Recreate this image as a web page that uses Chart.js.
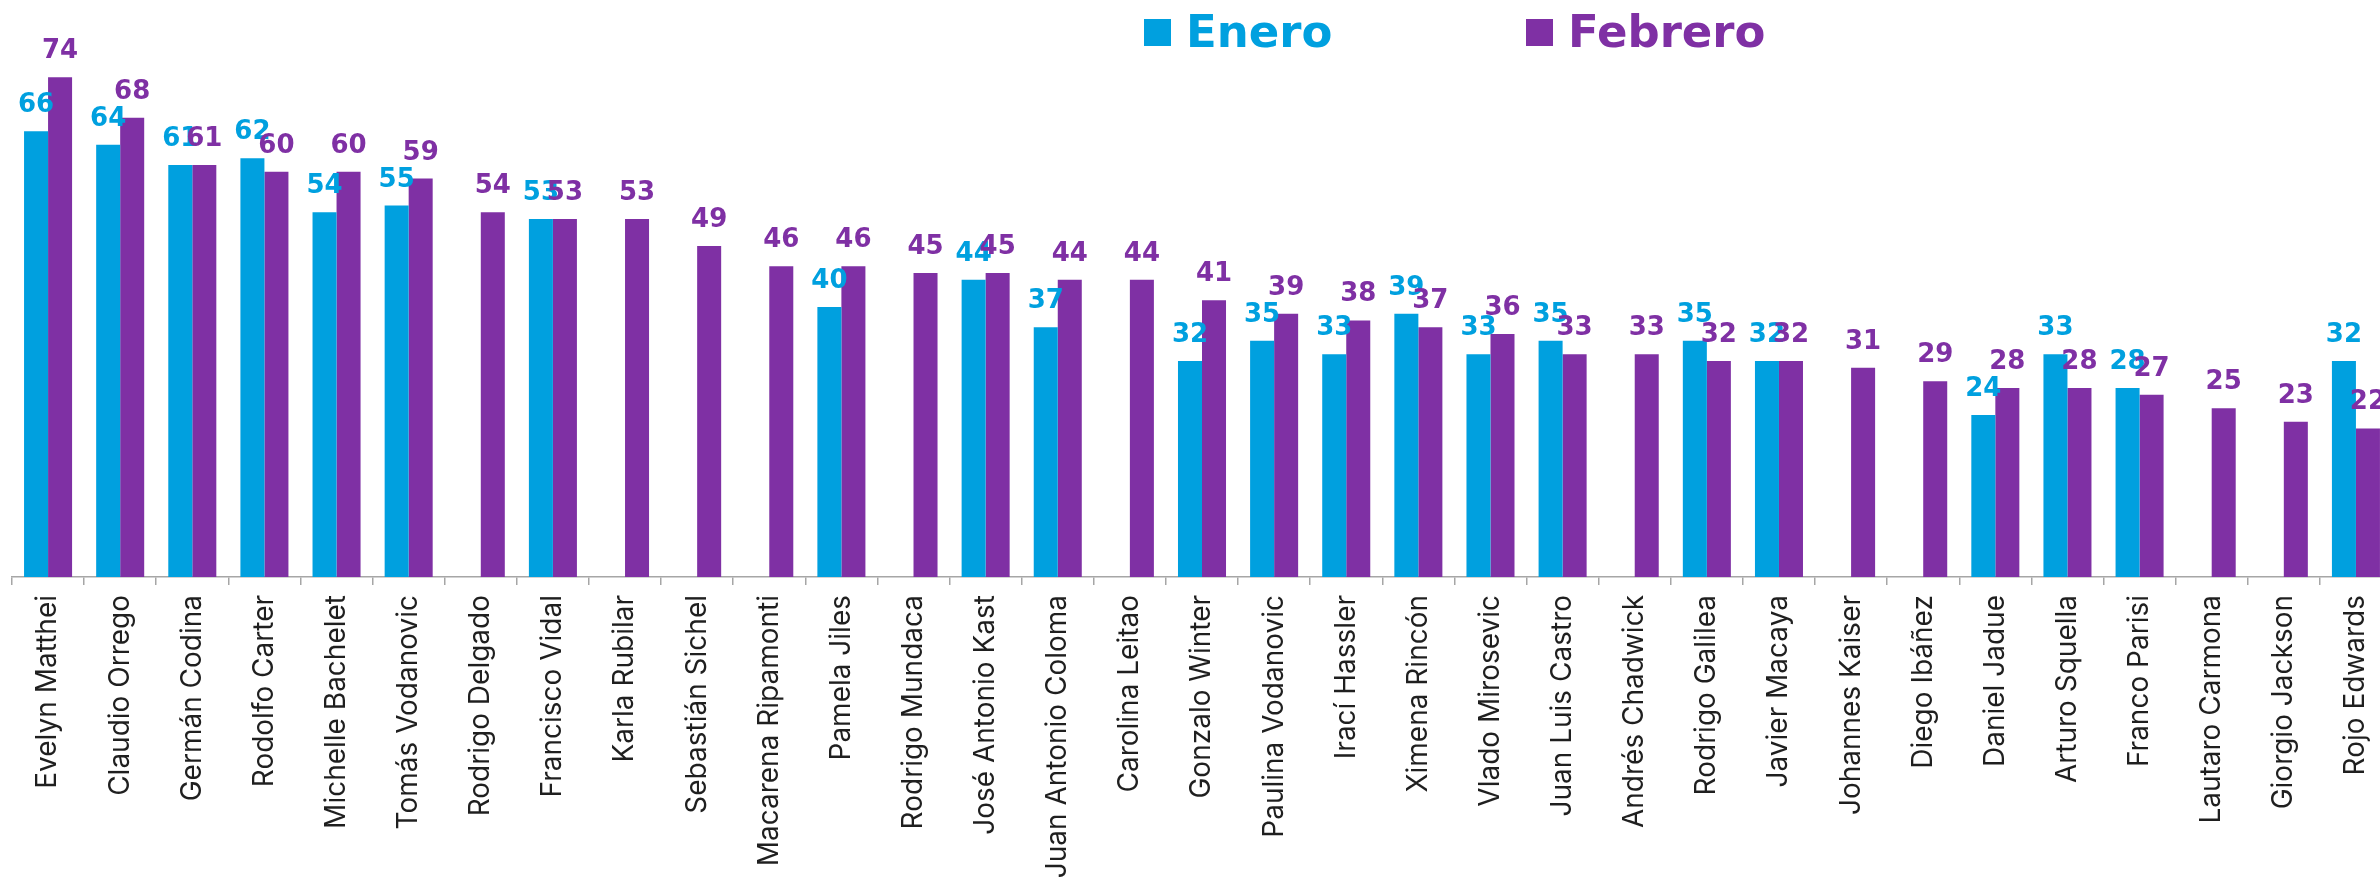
<!DOCTYPE html>
<html>
<head>
<meta charset="utf-8">
<script src="https://cdn.jsdelivr.net/npm/chart.js@4.4.1/dist/chart.umd.min.js"></script>
<style>
  html, body { margin: 0; padding: 0; background: #fff; overflow: hidden; }
  #wrap { width: 2400px; height: 885px; }
</style>
</head>
<body>
<div id="wrap"><canvas id="myChart" width="2400" height="885"></canvas></div>
<script>
// candidates, in the order shown
const candidates = [
  'Evelyn Matthei', 'Claudio Orrego', 'Germán Codina', 'Rodolfo Carter', 'Michelle Bachelet',
  'Tomás Vodanovic', 'Rodrigo Delgado', 'Francisco Vidal', 'Karla Rubilar', 'Sebastián Sichel',
  'Macarena Ripamonti', 'Pamela Jiles', 'Rodrigo Mundaca', 'José Antonio Kast', 'Juan Antonio Coloma',
  'Carolina Leitao', 'Gonzalo Winter', 'Paulina Vodanovic', 'Irací Hassler', 'Ximena Rincón',
  'Vlado Mirosevic', 'Juan Luis Castro', 'Andrés Chadwick', 'Rodrigo Galilea', 'Javier Macaya',
  'Johannes Kaiser', 'Diego Ibáñez', 'Daniel Jadue', 'Arturo Squella', 'Franco Parisi',
  'Lautaro Carmona', 'Giorgio Jackson', 'Rojo Edwards'
];

const enero = [
  66, 64, 61, 62, 54,
  55, null, 53, null, null,
  null, 40, null, 44, 37,
  null, 32, 35, 33, 39,
  33, 35, null, 35, 32,
  null, null, 24, 33, 28,
  null, null, 32
];

const febrero = [
  74, 68, 61, 60, 60,
  59, 54, 53, 53, 49,
  46, 46, 45, 45, 44,
  44, 41, 39, 38, 37,
  36, 33, 33, 32, 32,
  31, 29, 28, 28, 27,
  25, 23, 22
];

const seriesNames = ['Enero', 'Febrero'];
const seriesColors = ['#00A0DF', '#7F30A4'];

// numbers above each bar
const valueLabels = {
  id: 'valueLabels',
  afterDatasetsDraw(chart) {
    const c = chart.ctx;
    c.save();
    c.font = 'bold 26px "DejaVu Sans"';
    c.textAlign = 'center';
    c.textBaseline = 'alphabetic';
    chart.data.datasets.forEach((ds, i) => {
      const meta = chart.getDatasetMeta(i);
      c.fillStyle = ds.backgroundColor;
      meta.data.forEach((bar, j) => {
        if (ds.data[j] === null) return;
        c.fillText(ds.data[j], bar.x, bar.y - 19);
      });
    });
    c.restore();
  }
};

// legend sits off-centre in the original, so draw it by hand
const legendRow = {
  id: 'legendRow',
  afterDraw(chart) {
    const c = chart.ctx;
    const xs = [1144, 1526];
    c.save();
    c.font = 'bold 45px "DejaVu Sans"';
    c.textBaseline = 'alphabetic';
    chart.data.datasets.forEach((ds, i) => {
      c.fillStyle = ds.backgroundColor;
      c.fillRect(xs[i], 19, 27, 27);
      c.fillText(ds.label, xs[i] + 42, 47);
    });
    c.restore();
  }
};

const ctx = document.getElementById('myChart');

const myChart = new Chart(ctx, {
  type: 'bar',
  data: {
    labels: candidates,
    datasets: [
      { label: seriesNames[0], data: enero, backgroundColor: seriesColors[0] },
      { label: seriesNames[1], data: febrero, backgroundColor: seriesColors[1] }
    ]
  },
  options: {
    responsive: false,
    animation: false,
    devicePixelRatio: 1,
    categoryPercentage: 0.666,
    barPercentage: 1.0,
    layout: { padding: { left: 12, right: 8, top: 3, bottom: 0 } },
    plugins: {
      legend: { display: false },
      tooltip: { enabled: false }
    },
    scales: {
      x: {
        afterFit(scale) { scale.height = 308; },
        grid: {
          drawOnChartArea: false,
          drawTicks: true,
          tickLength: 8,
          color: '#A6A6A6',
          lineWidth: 1.5
        },
        border: { display: true, color: '#A6A6A6', width: 1.5 },
        ticks: {
          autoSkip: false,
          maxRotation: 90,
          minRotation: 90,
          padding: 10,
          color: '#1f1f1f',
          font: { family: 'Inter', size: 28 }
        }
      },
      y: {
        display: false,
        min: 0,
        max: 85
      }
    }
  },
  plugins: [valueLabels, legendRow]
});
</script>
</body>
</html>
